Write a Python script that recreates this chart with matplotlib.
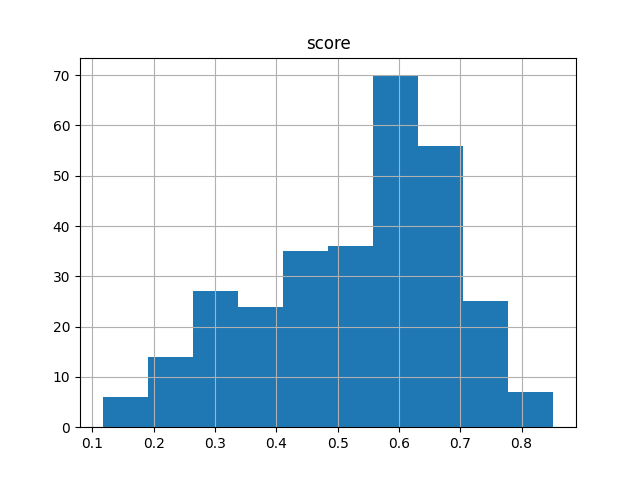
import matplotlib
matplotlib.use("Agg")
import matplotlib.pyplot as plt
import numpy as np

# histogram of score, 10 bins
lo, hi = 0.1164, 0.852
counts = [6, 14, 27, 24, 35, 36, 70, 56, 25, 7]

edges = np.linspace(lo, hi, len(counts) + 1)
centers = (edges[:-1] + edges[1:]) / 2

fig, ax = plt.subplots(figsize=(6.4, 4.8), dpi=100)
ax.hist(centers, bins=edges, weights=counts)
ax.grid(True)
ax.set_title("score")
fig.savefig("out.png")
